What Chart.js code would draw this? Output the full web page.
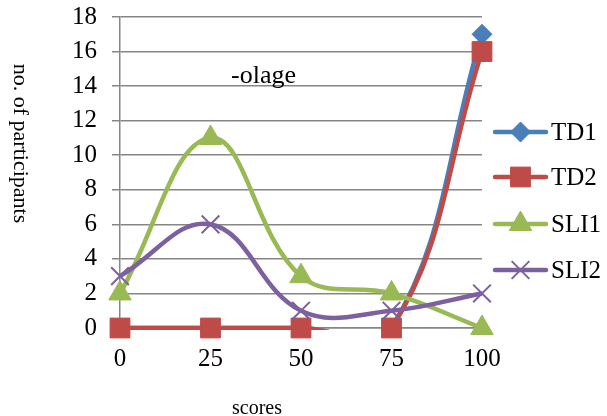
<!DOCTYPE html>
<html lang="en">
<head>
<meta charset="UTF-8">
<title>Scores by group</title>
<script src="https://cdn.jsdelivr.net/npm/chart.js"></script>
<style>
  body { margin: 0; background: #fff; }
  #wrap { width: 607px; height: 416px; position: relative; }
</style>
</head>
<body>
<div id="wrap"><canvas id="scoreChart"></canvas></div>
<script>
// data
const scores = ["0", "25", "50", "75", "100"];
const td1 = [0, 0, 0, 0, 17];
const td2 = [0, 0, 0, 0, 16];
const sli1 = [2, 11, 3, 2, 0];
const sli2 = [3, 6, 1, 1, 2];
const seriesNames = ["TD1", "TD2", "SLI1", "SLI2"];
const yMin = 0, yMax = 18, yStep = 2;

const serif = "'Liberation Serif', 'Times New Roman', serif";
const gridGray = "#868686";

const looks = [
  { color: "#4A7EBB", marker: "rectRot", radius: 10, bw: 1 },
  { color: "#BE4B48", marker: "rect", radius: 14, bw: 1 },
  { color: "#98B954", marker: "triangle", radius: 13, bw: 1 },
  { color: "#7D60A0", marker: "crossRot", radius: 12.5, bw: 2 }
];
const seriesData = [td1, td2, sli1, sli2];

// each series = a smoothed line (clipped at the axis like Excel) + its markers
const datasets = [];
seriesData.forEach((vals, i) => {
  const lk = looks[i];
  datasets.push({
    label: seriesNames[i],
    data: vals,
    borderColor: lk.color,
    borderWidth: 4.5,
    tension: 0.4,
    pointRadius: 0,
    fill: false,
    clip: { left: false, right: false, top: false, bottom: 2 },
    order: 8 - 2 * i
  });
  datasets.push({
    label: seriesNames[i] + " markers",
    data: vals,
    showLine: false,
    pointStyle: lk.marker,
    pointRadius: lk.radius,
    pointBackgroundColor: lk.color,
    pointBorderColor: lk.color,
    pointBorderWidth: lk.bw,
    clip: false,
    order: 7 - 2 * i
  });
});

function drawMarker(ctx, lk, x, y) {
  const r = lk.radius;
  ctx.save();
  ctx.fillStyle = lk.color;
  ctx.strokeStyle = lk.color;
  ctx.lineWidth = lk.bw;
  ctx.beginPath();
  if (lk.marker === "rectRot") {
    ctx.moveTo(x - r, y); ctx.lineTo(x, y - r); ctx.lineTo(x + r, y); ctx.lineTo(x, y + r);
    ctx.closePath(); ctx.fill(); ctx.stroke();
  } else if (lk.marker === "rect") {
    const s = Math.SQRT1_2 * r;
    ctx.rect(x - s, y - s, 2 * s, 2 * s); ctx.fill(); ctx.stroke();
  } else if (lk.marker === "triangle") {
    let a = 0;
    ctx.moveTo(x + Math.sin(a) * r, y - Math.cos(a) * r);
    a += 2 * Math.PI / 3; ctx.lineTo(x + Math.sin(a) * r, y - Math.cos(a) * r);
    a += 2 * Math.PI / 3; ctx.lineTo(x + Math.sin(a) * r, y - Math.cos(a) * r);
    ctx.closePath(); ctx.fill(); ctx.stroke();
  } else {
    const o = Math.SQRT1_2 * r;
    ctx.moveTo(x - o, y - o); ctx.lineTo(x + o, y + o);
    ctx.moveTo(x + o, y - o); ctx.lineTo(x - o, y + o);
    ctx.stroke();
  }
  ctx.restore();
}

const extrasPlugin = {
  id: "extras",
  afterDraw(chart) {
    const ctx = chart.ctx;
    ctx.save();
    ctx.fillStyle = "#000";

    // y title, reads top to bottom
    ctx.save();
    ctx.translate(20, 143.5);
    ctx.rotate(Math.PI / 2);
    ctx.font = "22px " + serif;
    ctx.textAlign = "center";
    ctx.textBaseline = "middle";
    ctx.fillText("no. of participants", 0, 0);
    ctx.restore();

    // x title (cut by the bottom edge)
    ctx.font = "20px " + serif;
    ctx.textAlign = "center";
    ctx.textBaseline = "alphabetic";
    ctx.fillText("scores", 257, 414);

    // stray label inside the plot
    ctx.font = "26px " + serif;
    ctx.textAlign = "left";
    ctx.fillText("-olage", 231, 83);

    // legend
    const rows = [132, 177, 224, 270];
    looks.forEach((lk, i) => {
      const y = rows[i];
      ctx.save();
      ctx.strokeStyle = lk.color;
      ctx.lineWidth = 4.5;
      ctx.lineCap = "round";
      ctx.beginPath();
      ctx.moveTo(495, y); ctx.lineTo(546, y);
      ctx.stroke();
      ctx.restore();
      drawMarker(ctx, lk, 520.5, y);
      ctx.fillStyle = "#000";
      ctx.font = "25px " + serif;
      ctx.textAlign = "left";
      ctx.textBaseline = "middle";
      ctx.fillText(seriesNames[i], 551, y + 1);
    });
    ctx.restore();
  }
};

new Chart(document.getElementById("scoreChart"), {
  type: "line",
  data: { labels: scores, datasets: datasets },
  options: {
    responsive: true,
    maintainAspectRatio: false,
    animation: false,
    events: [],
    layout: { padding: { left: 0, right: 125, top: 17, bottom: 0 } },
    elements: { line: { capBezierPoints: false } },
    plugins: { legend: { display: false }, tooltip: { enabled: false } },
    scales: {
      x: {
        offset: false,
        grid: { display: false, drawTicks: false },
        border: { display: true, color: gridGray, width: 1.5 },
        ticks: { color: "#000", font: { family: serif, size: 25 }, padding: 16, maxRotation: 0 },
        afterFit(scale) { scale.height = 88; scale.paddingLeft = 0; scale.paddingRight = 0; }
      },
      y: {
        min: yMin,
        max: yMax,
        ticks: { stepSize: yStep, color: "#000", font: { family: serif, size: 25 }, padding: 15 },
        grid: { color: gridGray, lineWidth: 1.5, tickLength: 8 },
        border: { display: true, color: gridGray, width: 1.5 },
        afterFit(scale) { scale.width = 120; scale.paddingTop = 0; scale.paddingBottom = 0; }
      }
    }
  },
  plugins: [extrasPlugin]
});
</script>
</body>
</html>
